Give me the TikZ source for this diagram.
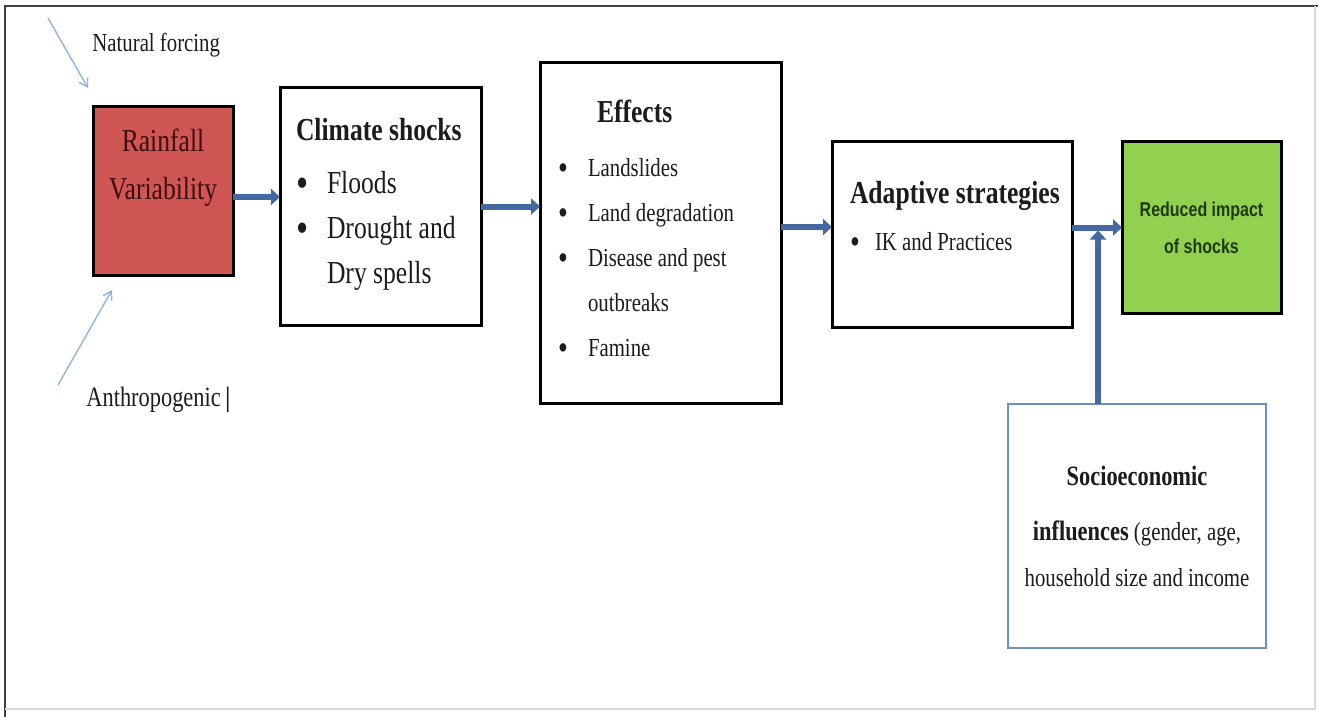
\documentclass[tikz,border=0pt]{standalone}
\usepackage{fontspec}
\setmainfont{Liberation Serif}[FakeStretch=0.8]
\newfontfamily\narrowsans{Liberation Sans}[FakeStretch=0.8]
\usetikzlibrary{arrows.meta,calc,positioning}

\definecolor{rainred}{RGB}{207,86,82}
\definecolor{raintext}{RGB}{60,14,14}
\definecolor{shockgreen}{RGB}{146,208,80}
\definecolor{greentext}{RGB}{30,58,14}
\definecolor{flowblue}{RGB}{68,104,160}
\definecolor{forceblue}{RGB}{150,180,215}
\definecolor{socioblue}{RGB}{110,145,185}
\definecolor{textdark}{RGB}{28,28,28}

\newcommand{\blt}[2][15pt]{\makebox[#1][l]{\raisebox{-0.12em}{\scalebox{1.35}{\textbullet}}}#2}

\begin{document}
\begin{tikzpicture}[x=0.5pt, y=-0.5pt,
  box/.style={draw=black, line width=1.5pt, fill=white, text=textdark, inner sep=0pt, outer sep=0pt},
  flow/.style={draw=flowblue, line width=3pt, -{Triangle[length=4.5pt,width=8pt]}},
  forcing/.style={draw=forceblue, line width=0.7pt, -{Straight Barb[length=4pt,width=5pt]}},
  lbl/.style={inner sep=0pt, anchor=west, text=textdark}]
  \useasboundingbox (0,0) rectangle (1318,717);

  % frame
  \draw[black!75, line width=1pt] (5,717) -- (5,6) -- (1318,6);
  \draw[black!15, line width=0.8pt] (1315,6) -- (1315,709) -- (5,709);

  \node[box, fill=rainred, text=raintext] (rain) at (163,191) {\parbox[c][84pt][t]{70pt}{\centering\fontsize{16}{24}\selectfont\vspace*{11pt}Rainfall\\Variability}};
  \node[box, right=23.5pt of rain, yshift=-7.75pt] (shock) {\parbox[c][118.5pt][t]{100.5pt}{\fontsize{16}{22.5}\selectfont\leftskip=8pt\vspace*{15pt}\textbf{Climate shocks}\par\vspace{4pt}\blt[15.5pt]{Floods}\\\blt[15.5pt]{Drought and}\\\hspace*{15.5pt}Dry spells}};
  \node[box, right=29.5pt of shock, yshift=-13.25pt] (effect) {\parbox[c][170pt][t]{120.5pt}{\fontsize{13}{22.5}\selectfont\leftskip=9pt\vspace*{18.5pt}\hspace*{19.5pt}{\fontsize{16}{22.5}\selectfont\textbf{Effects}}\par\vspace{4.5pt}\blt{Landslides}\\\blt{Land degradation}\\\blt{Disease and pest}\\\hspace*{15pt}outbreaks\\\blt{Famine}}};
  \node[box, right=25.5pt of effect, yshift=-0.75pt] (adapt) {\parbox[c][92.5pt][t]{120pt}{\fontsize{13}{23}\selectfont\leftskip=9pt\vspace*{19.5pt}{\fontsize{16}{23}\selectfont\textbf{Adaptive strategies}}\par\vspace{0.5pt}\blt[12.5pt]{IK and Practices}}};
  \node[box, fill=shockgreen, text=greentext, right=25pt of adapt, yshift=3.5pt, minimum width=79.5pt, minimum height=85.5pt, align=center, font=\narrowsans\bfseries\fontsize{10}{18.5}\selectfont] (reduce) {Reduced impact\\of shocks};
  \node[box, draw=socioblue, line width=1pt, below=45.5pt of reduce, xshift=-32.25pt] (socio) {\parbox[c][122pt][t]{129pt}{\centering\fontsize{13}{23}\selectfont\vspace*{31pt}{\fontsize{14}{23}\selectfont\textbf{Socioeconomic}}\\[4.5pt]{\fontsize{14}{23}\selectfont\textbf{influences}}~(gender, age,\\household size and income}};

  \node[lbl, font=\fontsize{13}{15}\selectfont] (nat) at (92,45) {Natural forcing};
  \node[lbl, font=\fontsize{14}{16}\selectfont] (anth) at (86,400) {Anthropogenic\,\textbf{|}};
  \coordinate (natfrom) at (48,18);
  \coordinate (anthfrom) at (58,385);
  \coordinate (join) at ([xshift=-19.5pt]socio.north |- reduce.west);

  \draw[forcing] (natfrom) -- ([shift={(-2.5pt,9.5pt)}]rain.north west);
  \draw[forcing] (anthfrom) -- ([shift={(9.5pt,-7.5pt)}]rain.south west);

  \draw[flow] ([yshift=-3pt]rain.east) -- ([yshift=-3pt]rain.east -| shock.west);
  \draw[flow] (shock.east) -- (shock.east -| effect.west);
  \draw[flow] ([yshift=3pt]effect.east) -- ([yshift=3pt]effect.east -| adapt.west);
  \draw[flow] (adapt.east |- reduce.west) -- (reduce.west);
  \draw[flow] ([xshift=-19.5pt]socio.north) -- ([yshift=-1.5pt]join);

\end{tikzpicture}
\end{document}
